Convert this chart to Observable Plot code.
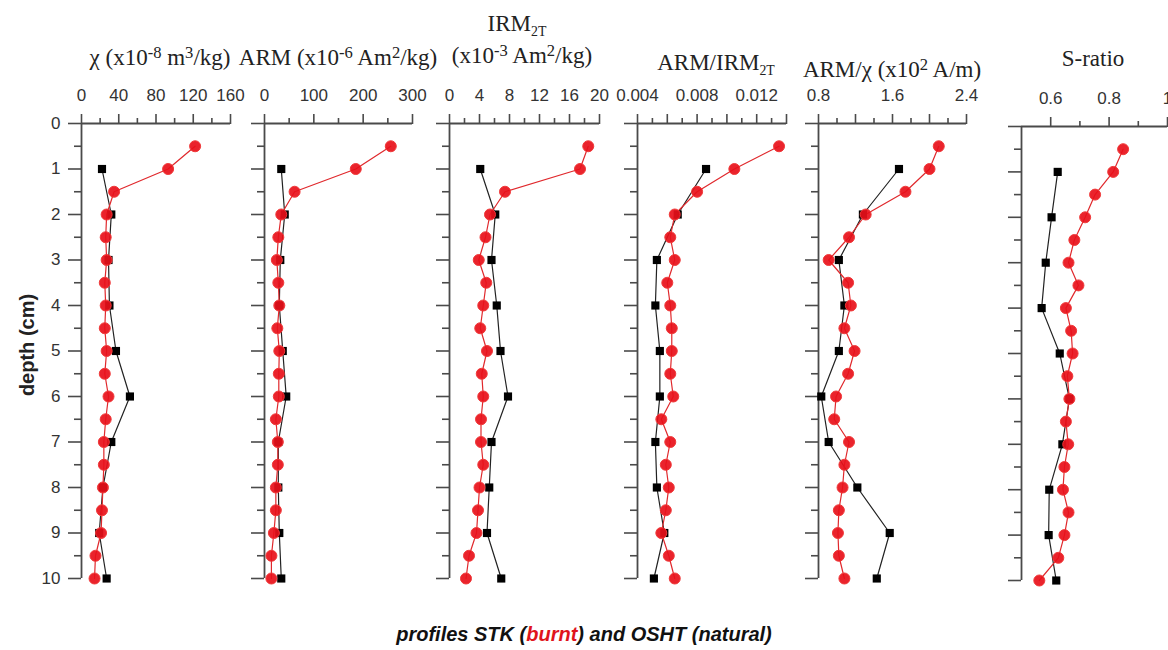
<!DOCTYPE html>
<html><head><meta charset="utf-8">
<script src="https://cdn.jsdelivr.net/npm/d3@7"></script>
<script src="https://cdn.jsdelivr.net/npm/@observablehq/plot@0.6"></script>
<style>
html,body{margin:0;padding:0;background:#fff;overflow:hidden;}
#chart{position:relative;width:1168px;height:650px;overflow:hidden;background:#fff;}
.title{position:absolute;font-family:"Liberation Serif","Times New Roman",serif;font-size:23px;color:#222;white-space:nowrap;line-height:23px;transform:translateX(-50%);}
.title sup{font-size:0.72em;line-height:0;vertical-align:0.45em;}
.title sub{font-size:0.6em;line-height:0;vertical-align:-0.35em;}
#ylab{position:absolute;left:27px;top:345px;transform:translate(-50%,-50%) rotate(-90deg);font-family:"Liberation Sans",Arial,sans-serif;font-weight:bold;font-size:20px;color:#222;white-space:nowrap;}
#caption{position:absolute;left:584px;top:623px;transform:translateX(-50%);font-family:"Liberation Sans",Arial,sans-serif;font-weight:bold;font-style:italic;font-size:20px;color:#111;white-space:nowrap;}
#caption .red{color:#e0141c;}
</style>
</head><body>
<div id="chart">
  <div class="title" style="left:160px;top:46px">χ (x10<sup>-8</sup> m<sup>3</sup>/kg)</div>
  <div class="title" style="left:338px;top:46px">ARM (x10<sup>-6</sup> Am<sup>2</sup>/kg)</div>
  <div class="title" style="left:517px;top:12px">IRM<sub>2T</sub></div>
  <div class="title" style="left:522px;top:44px">(x10<sup>-3</sup> Am<sup>2</sup>/kg)</div>
  <div class="title" style="left:716px;top:51px">ARM/IRM<sub>2T</sub></div>
  <div class="title" style="left:892px;top:58px">ARM/χ (x10<sup>2</sup> A/m)</div>
  <div class="title" style="left:1093px;top:47px">S-ratio</div>
  <div id="ylab">depth (cm)</div>
  <div id="caption">profiles STK (<span class="red">burnt</span>) and OSHT (natural)</div>
</div>
<script>
// depths
const depthBurnt = [0.5,1,1.5,2,2.5,3,3.5,4,4.5,5,5.5,6,6.5,7,7.5,8,8.5,9,9.5,10];
const depthNatural = [1,2,3,4,5,6,7,8,9,10];
const depthMajor = [0,1,2,3,4,5,6,7,8,9,10];
const depthMinor = [0.5,1.5,2.5,3.5,4.5,5.5,6.5,7.5,8.5,9.5];

// chi (x10-8 m3/kg)
const chiBurnt = [122,93,35,27,26,27,25,26,25,27,25,29,26,24,24,23,22,21,15,14];
const chiNatural = [22,32,29,30,37,52,32,23,19,27];
const chiLabels = [0,40,80,120,160];
const chiMinor = [20,60,100,140];

// ARM (x10-6 Am2/kg)
const armBurnt = [256,185,61,34,28,25,28,30,26,30,29,29,23,27,27,23,23,19,14,14];
const armNatural = [34,41,32,30,37,44,28,28,30,34];
const armLabels = [0,100,200,300];
const armMinor = [50,150,250];

// IRM2T (x10-3 Am2/kg)
const irmBurnt = [18.5,17.4,7.4,5.4,4.8,3.9,4.9,4.5,4.1,5.0,4.3,4.5,4.2,4.2,4.5,4.0,3.8,3.6,2.6,2.2];
const irmNatural = [4.1,6.1,5.6,6.3,6.8,7.8,5.6,5.3,5.0,6.9];
const irmLabels = [0,4,8,12,16,20];
const irmMinor = [2,6,10,14,18];

// ARM/IRM2T
const armIrmBurnt = [0.0135,0.0105,0.0080,0.0065,0.0062,0.0065,0.0060,0.0062,0.0063,0.0063,0.0062,0.0064,0.0056,0.0062,0.0059,0.0061,0.0059,0.0056,0.0061,0.0065];
const armIrmNatural = [0.0086,0.0067,0.0053,0.0052,0.0055,0.0055,0.0052,0.0053,0.0058,0.0051];
const armIrmLabels = [0.004,0.008,0.012];
const armIrmMajor = [0.004,0.006,0.008,0.010,0.012,0.014];
const armIrmMinor = [0.005,0.007,0.009,0.011,0.013];

// ARM/chi (x10^2 A/m)
const armChiBurnt = [2.10,2.00,1.74,1.31,1.13,0.91,1.12,1.15,1.08,1.19,1.12,0.99,0.97,1.13,1.08,1.06,1.02,1.01,1.02,1.08];
const armChiNatural = [1.67,1.28,1.02,1.08,1.02,0.83,0.91,1.22,1.57,1.43];
const armChiLabels = [0.8,1.6,2.4];
const armChiMajor = [0.8,1.2,1.6,2.0,2.4];
const armChiMinor = [1.0,1.4,1.8,2.2];

// S-ratio
const sBurnt = [0.848,0.814,0.752,0.718,0.681,0.661,0.695,0.652,0.670,0.675,0.657,0.664,0.652,0.660,0.647,0.642,0.661,0.647,0.626,0.561];
const sNatural = [0.624,0.603,0.583,0.569,0.631,0.664,0.640,0.595,0.593,0.619];
const sLabels = [0.6,0.8,1];
const sMajor = [0.6,0.8,1.0];
const sMinor = [0.7,0.9];

const panels = [
  {burnt: chiBurnt, natural: chiNatural, domain:[0,160], labels: chiLabels, major: chiLabels, minor: chiMinor, fmt: d => String(d), left: 81, w: 149, top: 123, bottom: 578},
  {burnt: armBurnt, natural: armNatural, domain:[0,300], labels: armLabels, major: armLabels, minor: armMinor, fmt: d => String(d), left: 264, w: 148, top: 123, bottom: 578},
  {burnt: irmBurnt, natural: irmNatural, domain:[0,20], labels: irmLabels, major: irmLabels, minor: irmMinor, fmt: d => String(d), left: 449, w: 150, top: 123, bottom: 578},
  {burnt: armIrmBurnt, natural: armIrmNatural, domain:[0.004,0.014], labels: armIrmLabels, major: armIrmMajor, minor: armIrmMinor, fmt: d3.format(".3f"), left: 637, w: 149, top: 123, bottom: 578},
  {burnt: armChiBurnt, natural: armChiNatural, domain:[0.8,2.4], labels: armChiLabels, major: armChiMajor, minor: armChiMinor, fmt: d3.format(".1f"), left: 818, w: 148, top: 123, bottom: 578},
  {burnt: sBurnt, natural: sNatural, domain:[0.5,1.0], labels: sLabels, major: sMajor, minor: sMinor, fmt: d => String(d), left: 1021, w: 146, top: 126, bottom: 580}
];

const chart = document.getElementById("chart");
const H = 650;
const axisColor = "#4a4a4a";

panels.forEach((p, i) => {
  const ml = i === 0 ? 81 : 20, mr = 20;
  const burnt = depthBurnt.map((d, k) => ({depth: d, v: p.burnt[k]}));
  const natural = depthNatural.map((d, k) => ({depth: d, v: p.natural[k]}));
  const svg = Plot.plot({
    width: ml + p.w + mr,
    height: H,
    marginLeft: ml, marginRight: mr, marginTop: p.top, marginBottom: H - p.bottom,
    x: {domain: p.domain},
    y: {domain: [0, 10], reverse: true},
    style: {fontFamily: '"Liberation Sans", Arial, sans-serif', fontSize: "17px", color: "#2a2a2a", background: "transparent", overflow: "visible"},
    marks: [
      Plot.axisX({ticks: p.labels, anchor: "top", tickSize: 0, tickPadding: 23, tickFormat: p.fmt, label: null, fill: "#333"}),
      Plot.axisX({ticks: p.major, anchor: "top", tickSize: 10, tickFormat: () => "", label: null, stroke: axisColor, strokeWidth: 1.6}),
      Plot.axisX({ticks: p.minor, anchor: "top", tickSize: 6, tickFormat: () => "", label: null, stroke: axisColor, strokeWidth: 1.6}),
      Plot.axisY({ticks: depthMajor, anchor: "left", tickSize: 13, tickPadding: 8, tickFormat: i === 0 ? (d => String(d)) : () => "", label: null, stroke: axisColor, strokeWidth: 1.6, fill: "#333"}),
      Plot.axisY({ticks: depthMinor, anchor: "left", tickSize: 7, tickFormat: () => "", label: null, stroke: axisColor, strokeWidth: 1.6}),
      Plot.ruleY([0], {stroke: axisColor, strokeWidth: 1.8}),
      Plot.ruleX([p.domain[0]], {stroke: axisColor, strokeWidth: 1.8}),
      Plot.line(natural, {x: "v", y: "depth", stroke: "#222", strokeWidth: 1.2}),
      Plot.line(burnt, {x: "v", y: "depth", stroke: "#e0282c", strokeWidth: 1.2}),
      Plot.dot(natural, {x: "v", y: "depth", symbol: "square", fill: "#000", r: 4.6}),
      Plot.dot(burnt, {x: "v", y: "depth", fill: "#e8101a", fillOpacity: 0.92, stroke: "#f03a3a", strokeWidth: 1, r: 5.5})
    ]
  });
  svg.style.position = "absolute";
  svg.style.left = (p.left - ml) + "px";
  svg.style.top = "0px";
  svg.style.maxWidth = "none";
  chart.appendChild(svg);
});
</script>
</body></html>
